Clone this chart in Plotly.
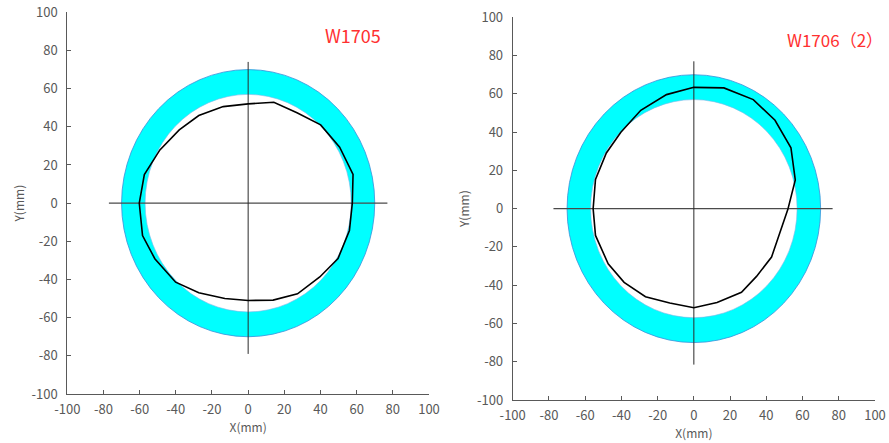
import plotly.graph_objects as go

# ---------------- data ----------------
TICK_VALUES = list(range(-100, 101, 20))
TICK_LABELS = ["-100", "-80", "-60", "-40", "-20", "0", "20", "40", "60", "80", "100"]
OUTER_R = 70
INNER_R = 57

chart_titles = ["W1705", "W1706（2）"]

# W1705 measured profile (mm), every 15 degrees starting at 0 deg
w1705_x = [57.6, 58.0, 50.6, 40.1, 27.0, 14.2, 0.0, -13.8, -27.3, -38.1, -48.8, -57.4,
           -60.2, -58.4, -51.6, -40.1, -27.3, -12.9, 0.0, 13.8, 27.3, 39.6, 49.7, 56.0]
w1705_y = [0.0, 15.0, 29.3, 41.0, 47.4, 52.9, 52.0, 50.6, 45.9, 38.4, 27.9, 15.0,
           0.0, -17.0, -29.1, -41.4, -47.0, -50.0, -51.0, -50.8, -47.5, -38.7, -29.0, -14.3]

# W1706 (2) measured profile (mm)
w1706_x = [52.0, 56.0, 53.6, 44.8, 32.8, 16.6, 0.0, -15.1, -29.3, -40.3, -48.3, -54.3,
           -55.6, -54.3, -47.3, -38.5, -26.7, -13.3, 0.0, 12.8, 26.3, 34.6, 42.9, 47.5]
w1706_y = [0.0, 15.0, 31.8, 46.2, 57.0, 63.1, 63.4, 59.6, 51.4, 39.9, 29.1, 15.2,
           0.0, -14.0, -28.8, -38.5, -46.0, -49.3, -51.8, -49.0, -43.7, -35.4, -25.3, -12.8]

# crosshair extents (mm)
cross_h = [[-77, 77], [-77.5, 76.6]]
cross_v = [[74, -79], [77, -81.5]]

profiles = [(w1705_x, w1705_y), (w1706_x, w1706_y)]

# ---------------- figure ----------------
AXIS_COLOR = "#595959"
FONT = "Noto Sans CJK SC"

fig = go.Figure()
shapes = []

for i, (px, py) in enumerate(profiles):
    xa = "x" if i == 0 else "x2"
    ya = "y" if i == 0 else "y2"
    # tolerance ring
    shapes.append(dict(type="circle", xref=xa, yref=ya, layer="below",
                       x0=-OUTER_R, x1=OUTER_R, y0=-OUTER_R, y1=OUTER_R,
                       fillcolor="#00FFFF", line=dict(color="#3A8FD9", width=0.8)))
    shapes.append(dict(type="circle", xref=xa, yref=ya, layer="below",
                       x0=-INNER_R, x1=INNER_R, y0=-INNER_R, y1=INNER_R,
                       fillcolor="white", line=dict(color="#7FB7E8", width=0.6)))
    # crosshair
    fig.add_trace(go.Scatter(x=cross_h[i], y=[0, 0], mode="lines", xaxis=xa, yaxis=ya,
                             line=dict(color="#4a4a4a", width=1.2), hoverinfo="skip"))
    fig.add_trace(go.Scatter(x=[0, 0], y=cross_v[i], mode="lines", xaxis=xa, yaxis=ya,
                             line=dict(color="#2a2a2a", width=1), hoverinfo="skip"))
    # measured profile
    fig.add_trace(go.Scatter(x=list(px) + [px[0]], y=list(py) + [py[0]], mode="lines",
                             xaxis=xa, yaxis=ya,
                             line=dict(color="black", width=1.6), hoverinfo="skip"))

def xaxis(domain, anchor):
    return dict(domain=domain, anchor=anchor, range=[-100, 100],
                tickmode="array", tickvals=TICK_VALUES, ticktext=TICK_LABELS,
                showline=True, linecolor=AXIS_COLOR, linewidth=1, showgrid=False,
                zeroline=False, ticks="inside", ticklen=4, tickcolor=AXIS_COLOR,
                tickfont=dict(family=FONT, size=13, color=AXIS_COLOR),
                ticklabelstandoff=3, automargin=False,
                title=dict(text="X(mm)", standoff=0,
                           font=dict(family=FONT, size=12, color=AXIS_COLOR)),
                fixedrange=True)

def yaxis(domain, anchor):
    return dict(domain=domain, anchor=anchor, range=[-100, 100],
                tickmode="array", tickvals=TICK_VALUES, ticktext=TICK_LABELS,
                showline=True, linecolor=AXIS_COLOR, linewidth=1, showgrid=False,
                zeroline=False, ticks="inside", ticklen=4, tickcolor=AXIS_COLOR,
                tickfont=dict(family=FONT, size=13, color=AXIS_COLOR),
                ticklabelstandoff=6, automargin=False,
                title=dict(text="Y(mm)", standoff=4,
                           font=dict(family=FONT, size=12, color=AXIS_COLOR)),
                fixedrange=True)

W, H = 889, 443
fig.update_layout(
    width=W, height=H,
    margin=dict(l=0, r=0, t=0, b=0),
    paper_bgcolor="white", plot_bgcolor="white",
    showlegend=False, hovermode=False,
    xaxis=xaxis([67.3 / W, 429 / W], "y"),
    yaxis=yaxis([(H - 394) / H, (H - 12.3) / H], "x"),
    xaxis2=xaxis([512.7 / W, 875 / W], "y2"),
    yaxis2=yaxis([(H - 400) / H, (H - 17.3) / H], "x2"),
    shapes=shapes,
    annotations=[
        dict(text=chart_titles[0], xref="paper", yref="paper", x=353 / W, y=1 - 35 / H,
             showarrow=False, xanchor="center", yanchor="middle",
             font=dict(family=FONT, size=18, color="#FF3030")),
        dict(text=chart_titles[1], xref="paper", yref="paper", x=835 / W, y=1 - 40 / H,
             showarrow=False, xanchor="center", yanchor="middle",
             font=dict(family=FONT, size=17, color="#FF3030")),
    ],
)

fig.write_html("out.html", config=dict(displayModeBar=False))
